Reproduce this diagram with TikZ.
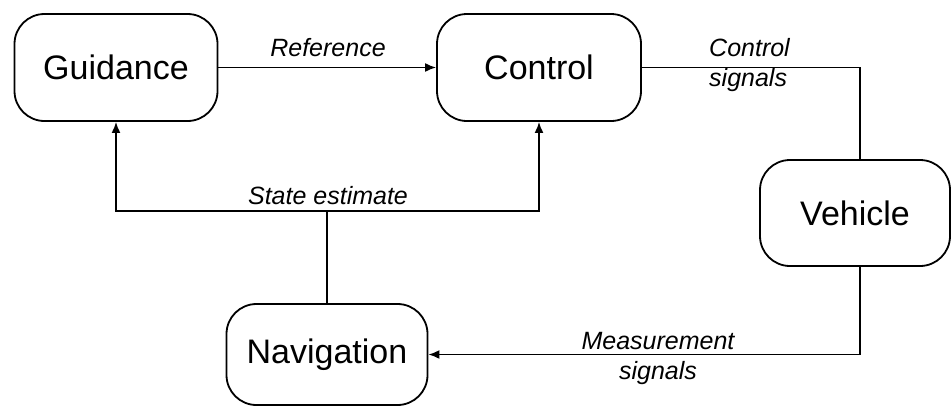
\documentclass[tikz,border=0pt]{standalone}
\usepackage{fontspec}
\setmainfont{Liberation Sans}
\usetikzlibrary{arrows.meta}
\begin{document}
\begin{tikzpicture}[x=1pt,y=-1pt,
  block/.style={draw, line width=1.8pt, rounded corners=30pt, inner sep=0pt,
    font=\fontsize{34}{40}\selectfont},
  link/.style={line width=1.8pt},
  sig/.style={link, -{Latex[length=11pt,width=9pt]}},
  lbl/.style={font=\fontsize{25}{30}\selectfont\itshape, inner sep=0pt}]
\useasboundingbox (0,0) rectangle (952,407);
\fill[white] (0,0) rectangle (952,407);

% blocks
\node[block, minimum width=203pt, minimum height=107pt] (guid) at (116,67.5) {Guidance};
\node[block, minimum width=204pt, minimum height=107pt] (ctrl) at (539,67.5) {Control};
\node[block, minimum width=190pt, minimum height=106pt] (veh) at (855,213) {Vehicle};
\node[block, minimum width=201pt, minimum height=101pt] (nav) at (327,354.5) {Navigation};

% helper coordinates for the routed lines
\coordinate (vx) at (860,0);
\coordinate (se) at (0,211);

% connectors
\draw[sig] (guid) -- (ctrl);
\draw[link] (ctrl.east) -| (vx |- veh.north);
\draw[sig] (vx |- veh.south) |- (nav.east);
\draw[link] (nav.north) -- (nav.north |- se);
\draw[sig] (nav.north |- se) -| (guid.south);
\draw[sig] (nav.north |- se) -| (ctrl.south);

% labels
\node[lbl] (lref) at (328,48) {Reference};
\node[lbl, align=left, anchor=west] (lcs) at (709,65) {Control\\signals};
\node[lbl] (lse) at (328,196) {State estimate};
\node[lbl, align=center] (lms) at (658,358) {Measurement\\signals};
\end{tikzpicture}
\end{document}
